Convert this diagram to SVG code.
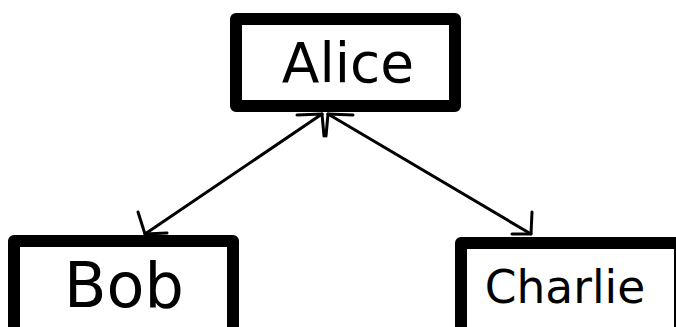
<svg xmlns="http://www.w3.org/2000/svg" width="676" height="327" viewBox="0 0 676 327">
<style>
.box{fill:#fff;stroke:#000;stroke-width:12;stroke-linejoin:round}
.lbl{font-family:"DejaVu Sans",sans-serif;fill:#000;text-anchor:middle}
.edge{fill:none;stroke:#000;stroke-width:3;stroke-linecap:round;stroke-linejoin:round}
</style>
<rect width="676" height="327" fill="#fff"/>
<g id="connectors">
<path class="edge" d="M322,114 L145,234"/>
<path class="edge" d="M328,114 L531,234"/>
<path class="edge" d="M297,115 L322,114 L324,136"/>
<path class="edge" d="M353,115 L328,114 L326,136"/>
<path class="edge" d="M138,212 L145,234 L167,233"/>
<path class="edge" d="M532,212 L531,234 L512,234"/>
</g>
<g id="alice">
<rect class="box" x="236" y="19" width="219" height="87"/>
<text class="lbl" x="348" y="82" font-size="55">Alice</text>
</g>
<g id="bob">
<rect class="box" x="14" y="241" width="219" height="100"/>
<text class="lbl" x="124" y="307" font-size="62">Bob</text>
</g>
<g id="charlie">
<rect class="box" x="461" y="243" width="219" height="100"/>
<text class="lbl" x="565" y="303" font-size="45.5">Charlie</text>
</g>
</svg>
